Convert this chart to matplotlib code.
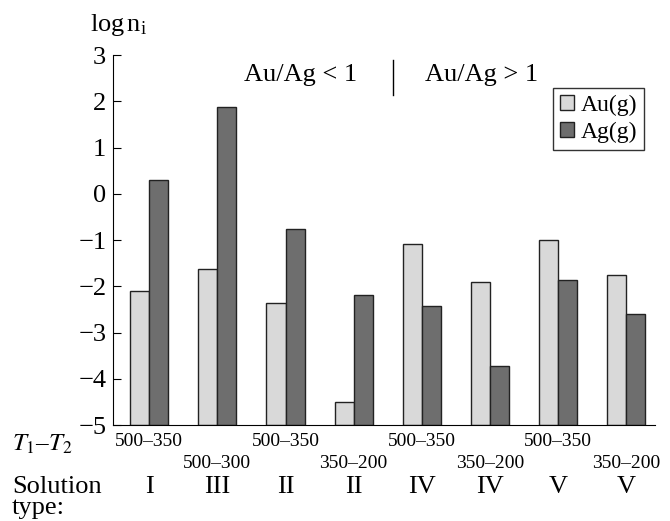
import numpy as np
import matplotlib
matplotlib.use('Agg')
from matplotlib import pyplot as plt
from matplotlib import transforms
from matplotlib.lines import Line2D

plt.rcParams['font.family'] = ['Liberation Serif', 'DejaVu Serif']
plt.rcParams['mathtext.fontset'] = 'stix'
plt.rcParams['axes.unicode_minus'] = True

# --------------- data ---------------
temp_ranges = ['500–350', '500–300', '500–350', '350–200',
               '500–350', '350–200', '500–350', '350–200']
solution_types = ['I', 'III', 'II', 'II', 'IV', 'IV', 'V', 'V']
au_g = [-2.1, -1.62, -2.35, -4.5, -1.08, -1.9, -1.0, -1.75]
ag_g = [0.3, 1.88, -0.75, -2.18, -2.42, -3.72, -1.87, -2.6]

fig = plt.figure(figsize=(6.7, 5.21), dpi=100)
ax = fig.add_axes([0.169, 0.184, 0.809, 0.71])

x = np.arange(len(au_g))
w = 0.28
ax.bar(x - w / 2, np.array(au_g) + 5, w, bottom=-5, color='#d9d9d9',
       edgecolor='#222222', linewidth=1.0, label='Au(g)')
ax.bar(x + w / 2, np.array(ag_g) + 5, w, bottom=-5, color='#6e6e6e',
       edgecolor='#222222', linewidth=1.0, label='Ag(g)')

ax.set_ylim(-5, 3)
ax.set_xlim(-0.53, 7.43)
ax.spines['top'].set_visible(False)
ax.spines['right'].set_visible(False)
ax.spines['left'].set_bounds(-5, 3)
ax.set_xticks([])
ax.set_yticks(range(-5, 4))
ax.tick_params(axis='y', direction='in', length=6, labelsize=19, pad=5)

# legend
ax.legend(loc='upper right', bbox_to_anchor=(0.98, 0.912), fontsize=17,
          frameon=True, fancybox=False, edgecolor='black', handlelength=0.6,
          handleheight=0.6, handletextpad=0.3, borderpad=0.3,
          borderaxespad=0, labelspacing=0.25)

# texts around the plot
fig.text(0.134, 0.952, r'log$\,$n$_\mathregular{i}$', fontsize=19, ha='left', va='center')
fig.text(0.448, 0.856, 'Au/Ag < 1', fontsize=19, ha='center', va='center')
fig.add_artist(Line2D([0.587, 0.587], [0.818, 0.884], color='black', linewidth=1.0))
fig.text(0.719, 0.856, 'Au/Ag > 1', fontsize=19, ha='center', va='center')

trans = transforms.blended_transform_factory(ax.transData, fig.transFigure)
for i, (t, s) in enumerate(zip(temp_ranges, solution_types)):
    yy = 0.152 if i % 2 == 0 else 0.111
    ax.text(i, yy, t, transform=trans, fontsize=14, ha='center', va='center')
    ax.text(i, 0.065, s, transform=trans, fontsize=19, ha='center', va='center')

fig.text(0.018, 0.148, r'$T_1$–$T_2$', fontsize=18, ha='left', va='center')
fig.text(0.018, 0.065, 'Solution', fontsize=19, ha='left', va='center')
fig.text(0.018, 0.025, 'type:', fontsize=19, ha='left', va='center')

plt.savefig('out.png', dpi=100)
